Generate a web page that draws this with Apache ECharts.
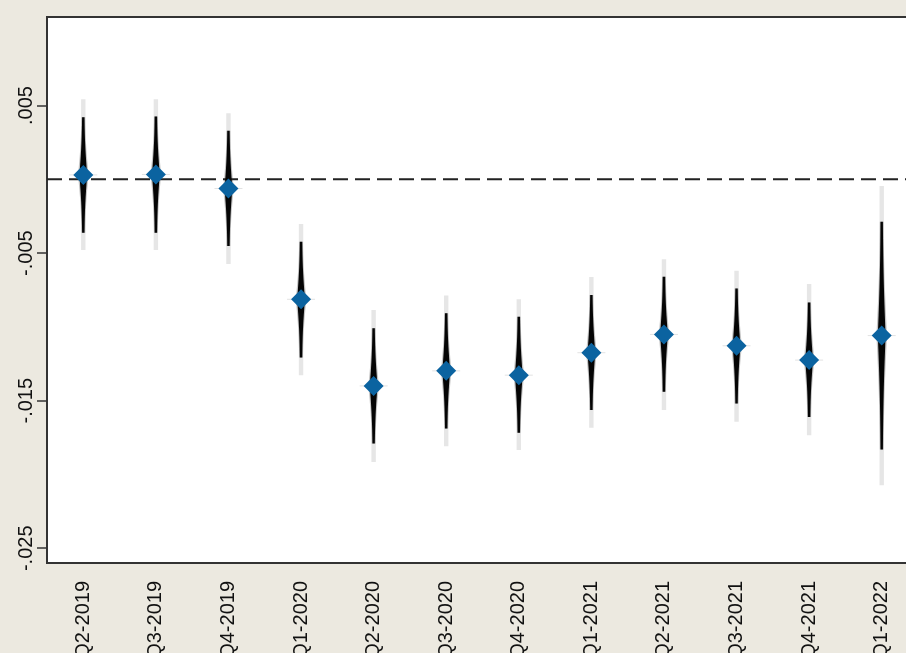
<!DOCTYPE html>
<html>
<head>
<meta charset="utf-8">
<style>
  html, body { margin: 0; padding: 0; background: #ECE9E0; }
  #chart { width: 906px; height: 653px; }
</style>
<script src="https://cdn.jsdelivr.net/npm/echarts@6/dist/echarts.min.js"></script>
</head>
<body>
<div id="chart"></div>
<script>
// Quarterly coefficient estimates with 95% and 99% confidence bounds
const categories = ['Q2-2019', 'Q3-2019', 'Q4-2019', 'Q1-2020', 'Q2-2020', 'Q3-2020',
                    'Q4-2020', 'Q1-2021', 'Q2-2021', 'Q3-2021', 'Q4-2021', 'Q1-2022'];
const estimate = [0.00030, 0.00033, -0.00062, -0.00813, -0.01400, -0.01298,
                  -0.01327, -0.01175, -0.01051, -0.01128, -0.01225, -0.01059];
const ci95Low  = [-0.00362, -0.00362, -0.00452, -0.01207, -0.01790, -0.01688,
                  -0.01718, -0.01564, -0.01440, -0.01519, -0.01610, -0.01831];
const ci95High = [0.00421, 0.00425, 0.00330, -0.00423, -0.01010, -0.00908,
                  -0.00931, -0.00784, -0.00660, -0.00739, -0.00834, -0.00287];
const ci99Low  = [-0.00479, -0.00479, -0.00574, -0.01327, -0.01915, -0.01808,
                  -0.01835, -0.01684, -0.01564, -0.01643, -0.01734, -0.02073];
const ci99High = [0.00543, 0.00543, 0.00448, -0.00303, -0.00886, -0.00787,
                  -0.00813, -0.00662, -0.00542, -0.00619, -0.00709, -0.00045];

// Y axis tick positions and their labels
const yTicks = [-0.025, -0.015, -0.005, 0.005];
const yTickLabels = ['-.025', '-.015', '-.005', '.005'];

// reference line value
const zeroLine = 0;

const ciData = categories.map((c, i) => [i, estimate[i], ci95Low[i], ci95High[i], ci99Low[i], ci99High[i]]);
const pointData = categories.map((c, i) => [i, estimate[i]]);

// error function approximation (Abramowitz & Stegun 7.1.26)
function erf(x) {
  const s = x < 0 ? -1 : 1;
  x = Math.abs(x);
  const t = 1 / (1 + 0.3275911 * x);
  const y = 1 - (((((1.061405429 * t - 1.453152027) * t) + 1.421413741) * t - 0.284496736) * t + 0.254829592) * t * Math.exp(-x * x);
  return s * y;
}

// half-width of the smoothed interval at fraction t of the way to the 95% bound
function halfWidth(t, base, extra) {
  const lvl = erf(1.96 * t / Math.SQRT2) / 0.95;
  return base + extra * Math.max(0, 1 - lvl);
}

function spindle(cx, cy, yTop, yBot, base, extra) {
  const n = 40;
  const left = [], right = [];
  for (let k = 0; k <= n; k++) {
    const t = k / n;
    const y = cy + (yTop - cy) * t;
    const w = halfWidth(t, base, extra);
    left.push([cx - w, y]);
    right.unshift([cx + w, y]);
  }
  for (let k = 1; k <= n; k++) {
    const t = k / n;
    const y = cy + (yBot - cy) * t;
    const w = halfWidth(t, base, extra);
    right.push([cx + w, y]);
    left.unshift([cx - w, y]);
  }
  return left.concat(right);
}

function renderCI(params, api) {
  const x = api.value(0);
  const c = api.coord([x, api.value(1)]);
  const lo95 = api.coord([x, api.value(2)])[1];
  const hi95 = api.coord([x, api.value(3)])[1];
  const lo99 = api.coord([x, api.value(4)])[1];
  const hi99 = api.coord([x, api.value(5)])[1];
  return {
    type: 'group',
    children: [
      { type: 'rect', shape: { x: c[0] - 2.2, y: hi99, width: 4.4, height: lo99 - hi99 },
        style: { fill: '#e6e6e6' } },
      { type: 'line', shape: { x1: c[0] - 14, y1: c[1], x2: c[0] + 14, y2: c[1] },
        style: { stroke: '#e2e2e2', lineWidth: 1 } },
      { type: 'polygon', shape: { points: spindle(c[0], c[1], hi95, lo95, 1.9, 3.4) },
        style: { fill: 'rgba(60,60,60,0.3)' } },
      { type: 'polygon', shape: { points: spindle(c[0], c[1], hi95, lo95, 1.2, 2.7) },
        style: { fill: '#050505' } }
    ]
  };
}

// dashed horizontal reference line across the plot area
function renderZero(params, api) {
  const cs = params.coordSys;
  const y = api.coord([0, api.value(0)])[1];
  return {
    type: 'line',
    shape: { x1: cs.x, y1: y, x2: cs.x + cs.width, y2: y },
    style: { stroke: '#222222', lineWidth: 2, lineDash: [15, 7] }
  };
}

const chart = echarts.init(document.getElementById('chart'), null, { renderer: 'canvas' });

const axisColor = '#333333';
const labelFont = { fontFamily: 'Liberation Sans, Arial, sans-serif', fontSize: 20, color: '#111111' };

chart.setOption({
  backgroundColor: '#ECE9E0',
  animation: false,
  grid: {
    left: 47, top: 17, right: -12, bottom: 90,
    outerBoundsMode: 'none',
    containLabel: false,
    show: true, backgroundColor: '#ffffff', borderColor: axisColor, borderWidth: 2
  },
  xAxis: {
    type: 'category',
    data: categories,
    boundaryGap: true,
    axisLine: { onZero: false, lineStyle: { color: axisColor, width: 2 } },
    axisTick: { alignWithLabel: true, length: 10, lineStyle: { color: axisColor, width: 1.5 } },
    axisLabel: Object.assign({ rotate: 90, margin: 18, interval: 0 }, labelFont),
    splitLine: { show: false }
  },
  yAxis: {
    type: 'value',
    min: -0.026,
    max: 0.011,
    axisLine: { show: true, onZero: false, lineStyle: { color: axisColor, width: 2 } },
    axisTick: { show: true, length: 10, customValues: yTicks, lineStyle: { color: axisColor, width: 1.5 } },
    axisLabel: Object.assign({
      rotate: 90, margin: 11, customValues: yTicks,
      formatter: v => {
        const i = yTicks.findIndex(t => Math.abs(t - v) < 1e-9);
        return i >= 0 ? yTickLabels[i] : '';
      }
    }, labelFont),
    splitLine: { show: false }
  },
  series: [
    {
      type: 'custom',
      data: [[zeroLine]],
      renderItem: renderZero,
      encode: { y: 0 },
      silent: true,
      z: 1
    },
    {
      type: 'custom',
      data: ciData,
      renderItem: renderCI,
      encode: { x: 0, y: [1, 2, 3, 4, 5] },
      z: 2
    },
    {
      type: 'scatter',
      data: pointData,
      symbol: 'diamond',
      symbolSize: [20, 20],
      itemStyle: { color: '#0b63a0', opacity: 1 },
      z: 3
    }
  ]
});
</script>
</body>
</html>
